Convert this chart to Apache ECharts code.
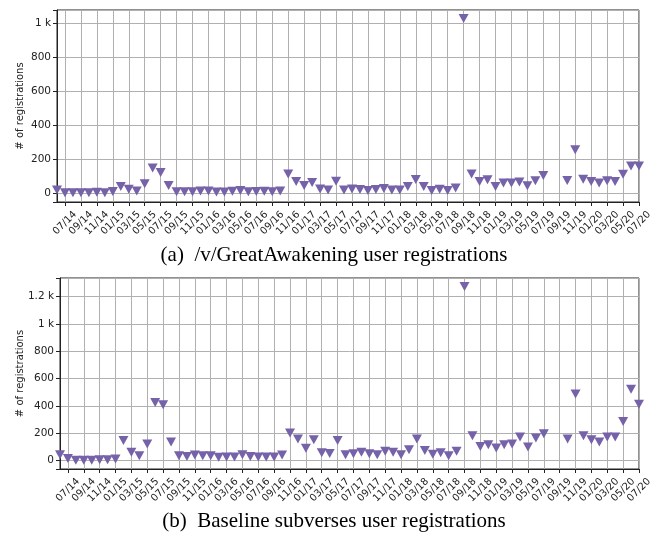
<!DOCTYPE html>
<html>
<head>
<meta charset="utf-8">
<script src="https://cdn.jsdelivr.net/npm/echarts@6/dist/echarts.min.js"></script>
<style>
  html, body { margin: 0; padding: 0; background: #fff; }
  #chart { width: 661px; height: 534px; }
</style>
</head>
<body>
<div id="chart"></div>
<script type="text/javascript">
// monthly buckets, 06/14 .. 07/20
var months = [
  '06/14','07/14','08/14','09/14','10/14','11/14','12/14',
  '01/15','02/15','03/15','04/15','05/15','06/15','07/15','08/15','09/15','10/15','11/15','12/15',
  '01/16','02/16','03/16','04/16','05/16','06/16','07/16','08/16','09/16','10/16','11/16','12/16',
  '01/17','02/17','03/17','04/17','05/17','06/17','07/17','08/17','09/17','10/17','11/17','12/17',
  '01/18','02/18','03/18','04/18','05/18','06/18','07/18','08/18','09/18','10/18','11/18','12/18',
  '01/19','02/19','03/19','04/19','05/19','06/19','07/19','08/19','09/19','10/19','11/19','12/19',
  '01/20','02/20','03/20','04/20','05/20','06/20','07/20'
];

// (a) /v/GreatAwakening
var gaValues = [
  18, 3, 3, 3, 3, 5, 3, 10, 39, 23,
  12, 55, 147, 121, 45, 8, 8, 8, 12, 12,
  6, 6, 11, 16, 8, 10, 11, 8, 13, 113,
  69, 45, 63, 25, 19, 70, 19, 25, 22, 16,
  21, 27, 19, 19, 39, 80, 39, 16, 23, 15,
  30, 1025, 113, 68, 78, 39, 59, 59, 65, 43,
  72, 104, null, null, 74, 255, 82, 68, 59, 72,
  68, 111, 160, 160
];

// (b) baseline subverses
var baseValues = [
  44, 15, 3, 3, 3, 7, 7, 12, 148, 61,
  36, 121, 425, 408, 136, 36, 31, 41, 36, 36,
  24, 26, 26, 44, 31, 26, 26, 26, 41, 203,
  158, 91, 153, 58, 53, 148, 44, 51, 61, 51,
  44, 68, 61, 44, 80, 158, 75, 47, 58, 36,
  68, 1272, 182, 104, 117, 92, 117, 121, 172, 99,
  165, 197, null, null, 158, 488, 182, 153, 136, 172,
  172, 287, 522, 413
];

var captions = [
  '(a)  /v/GreatAwakening user registrations',
  '(b)  Baseline subverses user registrations'
];

var markColor = '#7562a9';
var gridColor = '#b0b0b0';
var inkColor = '#222';

function oddMonth(index) {
  return index % 2 === 1;
}

function kFormat(v) {
  if (v % 200 !== 0) return '';
  return v >= 1000 ? (v / 1000) + ' k' : String(v);
}

function makeX(gi) {
  return {
    type: 'category',
    gridIndex: gi,
    data: months,
    boundaryGap: false,
    axisLine: { onZero: false, lineStyle: { color: inkColor, width: 1 } },
    axisTick: { interval: oddMonth, length: 4, lineStyle: { color: inkColor } },
    axisLabel: {
      interval: oddMonth, rotate: 45, align: 'center', verticalAlign: 'middle',
      margin: 21, fontFamily: 'DejaVu Sans', fontSize: 10, color: inkColor
    },
    splitLine: { show: true, interval: oddMonth, lineStyle: { color: gridColor, width: 1 } }
  };
}

function makeY(gi, min, max, gap) {
  return {
    type: 'value',
    gridIndex: gi,
    min: min,
    max: max,
    minInterval: 200,
    maxInterval: 200,
    name: '# of registrations',
    nameLocation: 'middle',
    nameGap: gap,
    nameMoveOverlap: false,
    nameTextStyle: { fontFamily: 'DejaVu Sans', fontSize: 10, color: inkColor },
    axisLine: { show: true, onZero: false, lineStyle: { color: inkColor, width: 1 } },
    axisTick: { show: true, length: 4, lineStyle: { color: inkColor } },
    axisLabel: { formatter: kFormat, margin: 6, fontFamily: 'DejaVu Sans', fontSize: 10.5, color: inkColor },
    splitLine: { show: true, lineStyle: { color: gridColor, width: 1 } }
  };
}

function makeSeries(gi, values) {
  return {
    type: 'scatter',
    xAxisIndex: gi,
    yAxisIndex: gi,
    data: values,
    symbol: 'triangle',
    symbolRotate: 180,
    symbolSize: [10, 9],
    itemStyle: { color: markColor, opacity: 1 },
    emphasis: { disabled: true },
    silent: true
  };
}

var chart = echarts.init(document.getElementById('chart'), null, { renderer: 'canvas' });
var option = {
  animation: false,
  backgroundColor: '#fff',
  grid: [
    { left: 57, top: 10, width: 582, height: 192, show: true, borderColor: inkColor, borderWidth: 1 },
    { left: 60, top: 278, width: 579, height: 191, show: true, borderColor: inkColor, borderWidth: 1 }
  ],
  xAxis: [makeX(0), makeX(1)],
  yAxis: [makeY(0, -52, 1075, 32), makeY(1, -61, 1335, 35)],
  series: [makeSeries(0, gaValues), makeSeries(1, baseValues)],
  graphic: [
    { type: 'text', x: 334, y: 255, style: { text: captions[0], fill: '#000', font: '21px "Liberation Serif"', align: 'center', verticalAlign: 'middle' } },
    { type: 'text', x: 334, y: 521, style: { text: captions[1], fill: '#000', font: '21px "Liberation Serif"', align: 'center', verticalAlign: 'middle' } }
  ]
};
chart.setOption(option);
</script>
</body>
</html>
